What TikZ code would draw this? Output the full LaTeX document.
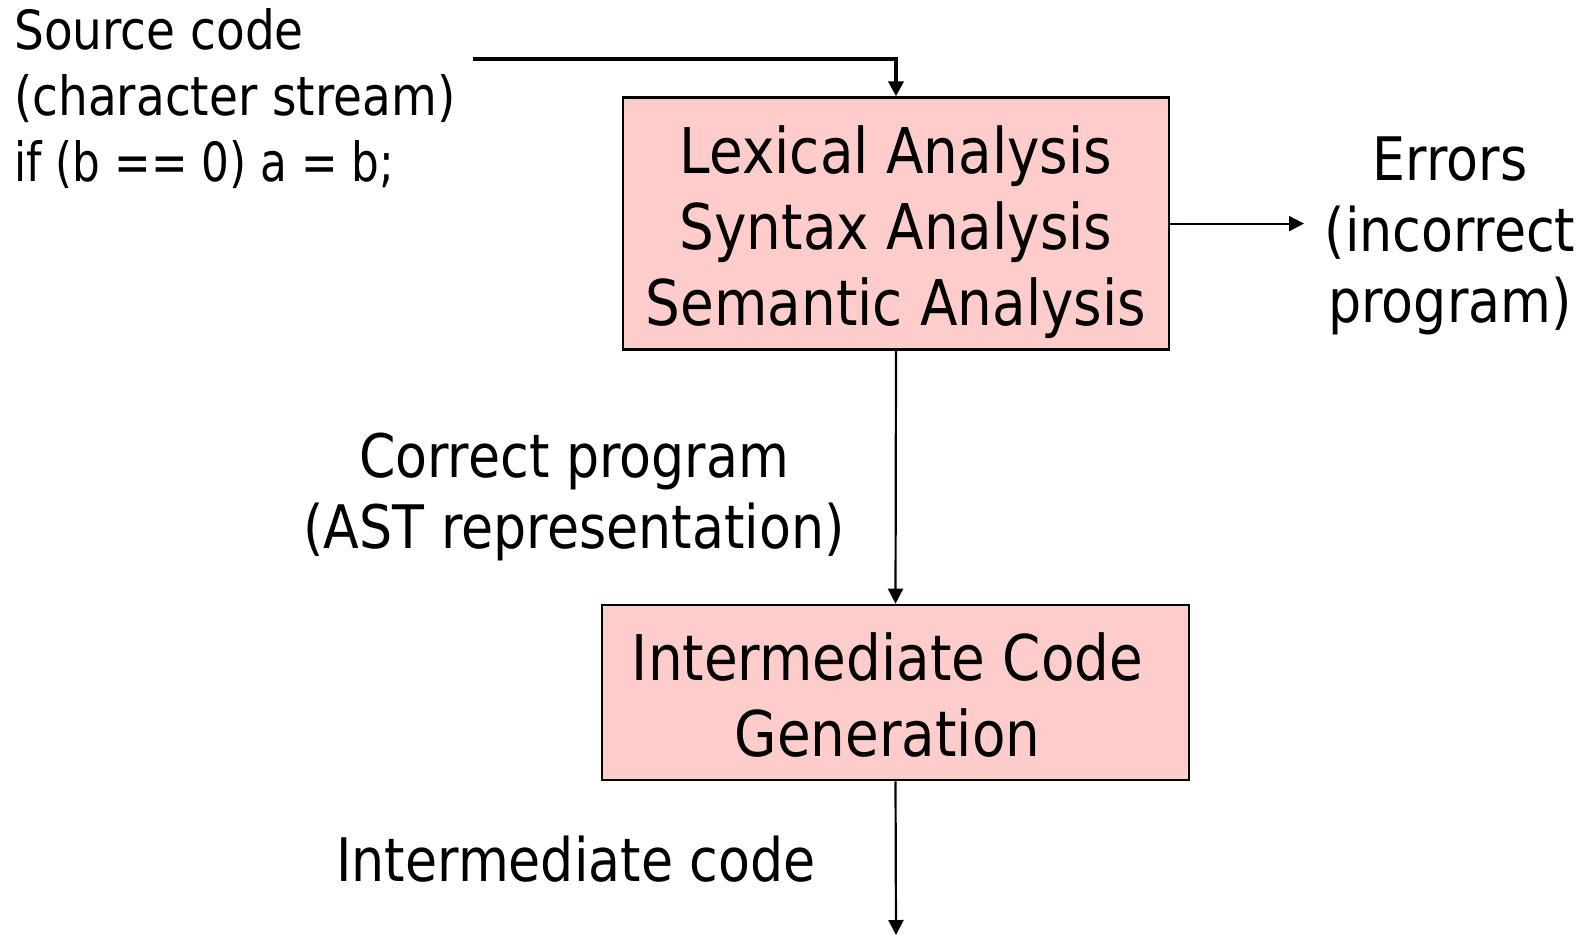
\documentclass[tikz,border=0pt]{standalone}
\usepackage{fontspec}
\setmainfont{DejaVu Sans}[FakeStretch=0.87]
\newfontfamily\codefont{DejaVu Sans}[FakeStretch=0.81]
\usetikzlibrary{arrows.meta}
\definecolor{stagepink}{HTML}{FFCCCC}
\begin{document}
\begin{tikzpicture}[x=1pt,y=-1pt,
  stagebox/.style={draw=black,line width=2.6pt,fill=stagepink,inner sep=0pt},
  stagetext/.style={inner sep=0pt,align=center,font=\fontsize{63}{76}\selectfont},
  flow/.style={line width=2.2pt,-{Triangle[length=15pt,width=15pt]}},
  note/.style={inner sep=0pt,align=center,font=\fontsize{60}{71}\selectfont}]
  \useasboundingbox (0,0) rectangle (1594,937);

  % compiler front-end stages
  \node[stagebox,minimum width=546pt,minimum height=252pt] (lex) at (896,223.6) {};
  \node[stagetext] (lextext) at ([yshift=-9pt]lex.center)
    {Lexical Analysis\\Syntax Analysis\\Semantic Analysis};
  \node[stagebox,minimum width=587pt,minimum height=175pt] (icg) at (895.5,692.5) {};
  \node[stagetext] (icgtext) at ([xshift=-8pt,yshift=-3pt]icg.center)
    {Intermediate Code\\Generation};

  % input description
  \node[inner sep=0pt,align=left,anchor=north west,font=\fontsize{54}{66}\selectfont]
    (src) at (14,8) {Source code\\(character stream)\\{\codefont if (b == 0) a = b;}};

  % side outputs and labels
  \node[note] (errs) at (1450,236) {Errors\\(incorrect\\program)};
  \node[note] (ast) at (574,497) {Correct program\\(AST representation)};
  \node[note] (imc) at (576,859) {Intermediate code};

  % connectors
  \coordinate (srcin) at (473,59);
  \coordinate (errtip) at (1304,222);
  \coordinate (out) at (896,935);
  \draw[flow,line width=4pt] (srcin) -| (lex.north);
  \draw[flow] (lex.east) -- (lex.east -| errtip);
  \draw[flow] (lex.south) -- (icg.north);
  \draw[flow] (icg.south) -- (out);
\end{tikzpicture}
\end{document}
